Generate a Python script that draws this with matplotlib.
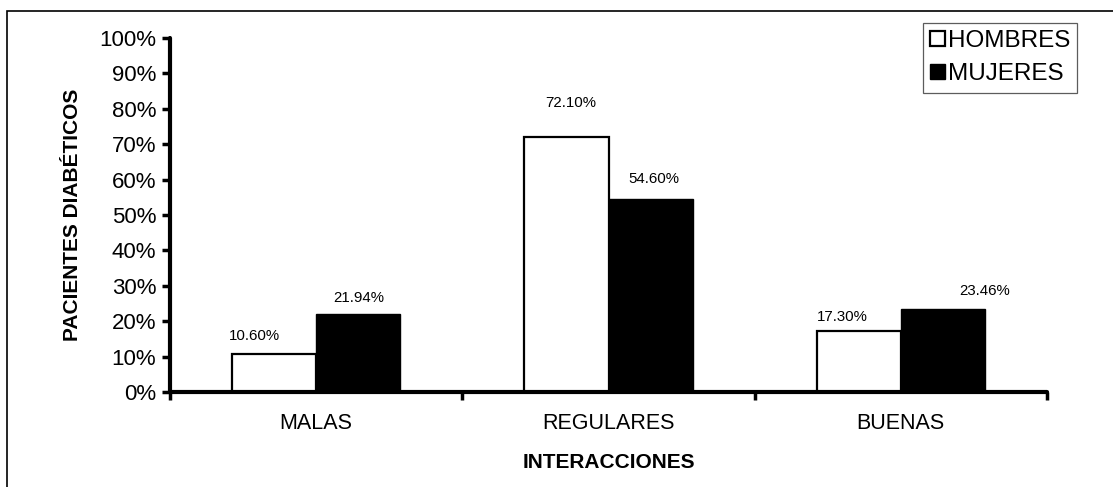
import matplotlib.pyplot as plt
import numpy as np
from matplotlib.patches import Rectangle
from matplotlib.ticker import FixedLocator, PercentFormatter

plt.rcParams['font.family'] = ['Liberation Sans', 'DejaVu Sans']

categories = ['MALAS', 'REGULARES', 'BUENAS']
hombres = [10.60, 72.10, 17.30]
mujeres = [21.94, 54.60, 23.46]
series_names = ['HOMBRES', 'MUJERES']
# label shifts (points) to follow the original placement
hombres_dx = [-14, 3, -12]
hombres_dy = [8, 19, 5]
mujeres_dx = [0, 2, 30]
mujeres_dy = [7, 9, 8]

fig = plt.figure(figsize=(11.13, 4.87), dpi=100)
ax = fig.add_axes([170/1113, 1-392/487, (1047-170)/1113, (392-38)/487])

# outer frame of the original picture
fig.patches.append(Rectangle((7/1113, -0.1), 1.2, 1.1 - 11/487,
                             transform=fig.transFigure, fill=False,
                             edgecolor='black', linewidth=1.2))

x = np.arange(len(categories))
w = 0.288
b1 = ax.bar(x - w/2, hombres, w, color='white', edgecolor='black',
            linewidth=1.6, label=series_names[0], zorder=2)
b2 = ax.bar(x + w/2, mujeres, w, color='black', edgecolor='black',
            linewidth=1.0, label=series_names[1], zorder=2)

for bars, dxs, dys in [(b1, hombres_dx, hombres_dy), (b2, mujeres_dx, mujeres_dy)]:
    for bar, dx, dy in zip(bars, dxs, dys):
        ax.annotate(f'{bar.get_height():.2f}%',
                    (bar.get_x() + bar.get_width()/2, bar.get_height()),
                    xytext=(dx, dy), textcoords='offset points',
                    ha='center', va='bottom', fontsize=10.8)

ax.set_xlim(-0.5, 2.5)
ax.set_ylim(0, 100)
ax.yaxis.set_major_locator(FixedLocator(np.arange(0, 101, 10)))
ax.yaxis.set_major_formatter(PercentFormatter(decimals=0))
ax.set_xticks(x)
ax.set_xticklabels(categories, fontsize=15.5)
ax.xaxis.set_minor_locator(FixedLocator([-0.5, 0.5, 1.5, 2.5]))
ax.tick_params(axis='x', which='major', length=0, pad=15)
ax.tick_params(axis='x', which='minor', length=6, width=2.5, direction='out')
ax.tick_params(axis='y', length=6, width=2.5, direction='out', labelsize=16, pad=4)

for s in ['top', 'right']:
    ax.spines[s].set_visible(False)
for s in ['left', 'bottom']:
    ax.spines[s].set_linewidth(3)
    ax.spines[s].set_capstyle('round')

ax.set_ylabel('PACIENTES DIABÉTICOS', fontsize=15, fontweight='bold', labelpad=12)
ax.set_xlabel('INTERACCIONES', fontsize=15, fontweight='bold', labelpad=14)

leg = fig.legend(loc='upper left', bbox_to_anchor=(923/1113, 1-23/487),
                 fontsize=17.5, frameon=True, fancybox=False, edgecolor='#333333',
                 handlelength=0.6, handleheight=0.6, handletextpad=0.12,
                 borderpad=0.3, labelspacing=0.45, borderaxespad=0)
leg.get_frame().set_linewidth(0.9)

fig.savefig('out.png', dpi=100)
